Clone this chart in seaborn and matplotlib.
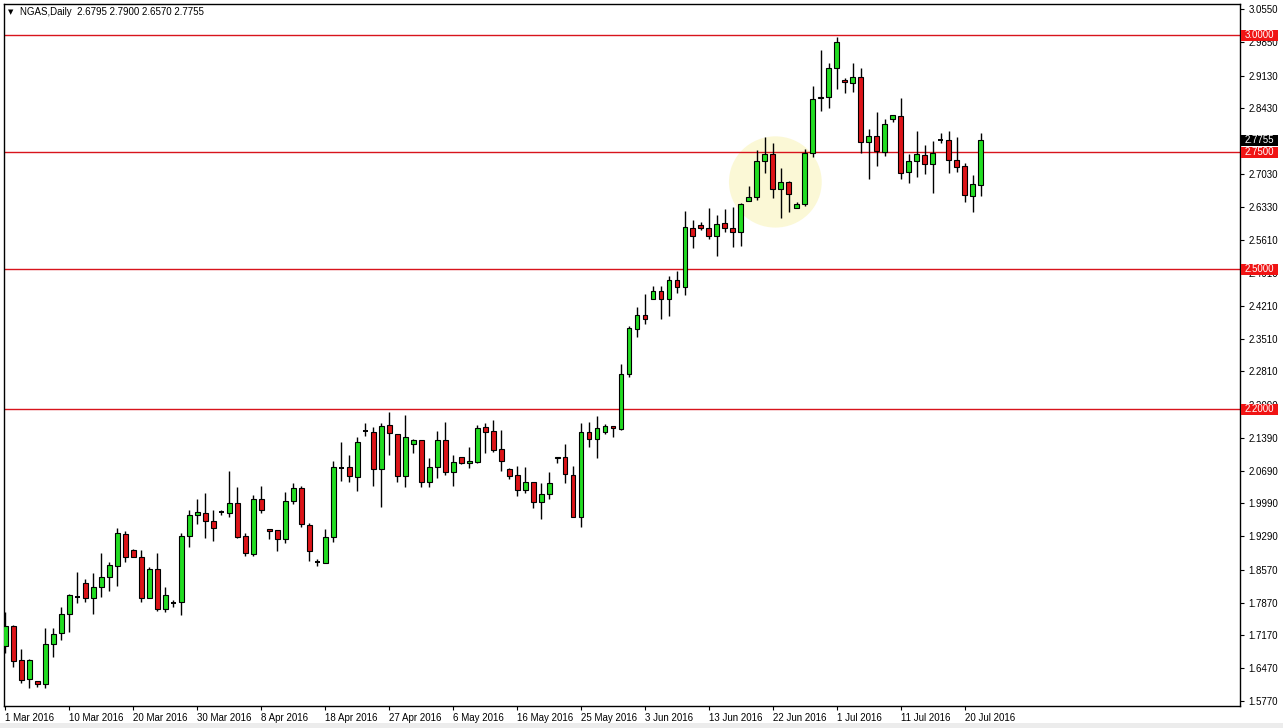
import matplotlib
matplotlib.use("Agg")
import matplotlib.pyplot as plt
import seaborn as sns
import numpy as np
import pandas as pd
from matplotlib.patches import Ellipse, Rectangle

# ---------------- data (NGAS daily, 1 Mar 2016 - 22 Jul 2016) ----------------
opens = [1.694, 1.737, 1.665, 1.624, 1.620, 1.613, 1.699, 1.722, 1.763, 1.800,
         1.829, 1.797, 1.821, 1.842, 1.865, 1.934, 1.900, 1.885, 1.797, 1.859,
         1.774, 1.786, 1.789, 1.930, 1.974, 1.979, 1.962, 1.980, 1.979, 2.000,
         1.930, 1.891, 2.009, 1.944, 1.942, 1.923, 2.004, 2.032, 1.953, 1.874,
         1.872, 1.927, 2.075, 2.077, 2.056, 2.154, 2.152, 2.073, 2.167, 2.147,
         2.058, 2.126, 2.135, 2.045, 2.077, 2.135, 2.066, 2.098, 2.086, 2.088,
         2.162, 2.154, 2.115, 2.073, 2.060, 2.028, 2.045, 2.002, 2.019, 2.096,
         2.098, 2.060, 1.970, 2.152, 2.137, 2.152, 2.165, 2.158, 2.276, 2.372,
         2.402, 2.436, 2.453, 2.436, 2.477, 2.462, 2.588, 2.594, 2.588, 2.571,
         2.598, 2.588, 2.579, 2.645, 2.654, 2.731, 2.746, 2.671, 2.686, 2.630,
         2.639, 2.748, 2.868, 2.868, 2.930, 2.904, 2.898, 2.910, 2.771, 2.784,
         2.750, 2.821, 2.827, 2.707, 2.731, 2.744, 2.724, 2.776, 2.776, 2.733,
         2.720, 2.656, 2.6795]
highs = [1.767, 1.739, 1.688, 1.666, 1.620, 1.733, 1.733, 1.778, 1.806, 1.853,
         1.838, 1.850, 1.893, 1.874, 1.947, 1.940, 1.902, 1.900, 1.863, 1.893,
         1.821, 1.793, 1.936, 1.985, 2.009, 2.021, 1.985, 1.985, 2.068, 2.034,
         1.936, 2.017, 2.036, 1.944, 1.942, 2.023, 2.043, 2.036, 1.957, 1.880,
         1.944, 2.090, 2.130, 2.103, 2.141, 2.171, 2.162, 2.171, 2.194, 2.147,
         2.188, 2.137, 2.135, 2.096, 2.154, 2.173, 2.103, 2.098, 2.120, 2.167,
         2.171, 2.177, 2.156, 2.075, 2.079, 2.077, 2.045, 2.043, 2.066, 2.098,
         2.126, 2.079, 2.171, 2.173, 2.186, 2.169, 2.165, 2.297, 2.378, 2.419,
         2.447, 2.464, 2.464, 2.485, 2.496, 2.624, 2.605, 2.600, 2.630, 2.615,
         2.628, 2.633, 2.641, 2.677, 2.754, 2.782, 2.769, 2.716, 2.688, 2.643,
         2.756, 2.891, 2.968, 2.940, 2.996, 2.908, 2.940, 2.930, 2.799, 2.836,
         2.821, 2.829, 2.865, 2.746, 2.795, 2.765, 2.774, 2.791, 2.795, 2.782,
         2.727, 2.701, 2.7900]
lows = [1.680, 1.650, 1.615, 1.605, 1.607, 1.605, 1.671, 1.707, 1.724, 1.786,
        1.789, 1.763, 1.799, 1.812, 1.823, 1.874, 1.885, 1.789, 1.797, 1.769,
        1.767, 1.778, 1.761, 1.906, 1.955, 1.925, 1.919, 1.974, 1.970, 1.925,
        1.887, 1.887, 1.979, 1.923, 1.897, 1.915, 1.998, 1.949, 1.876, 1.865,
        1.872, 1.917, 2.047, 2.045, 2.026, 2.143, 2.036, 1.992, 2.103, 2.045,
        2.034, 2.107, 2.034, 2.034, 2.053, 2.060, 2.036, 2.083, 2.075, 2.086,
        2.107, 2.109, 2.068, 2.051, 2.015, 2.021, 1.989, 1.966, 2.009, 2.086,
        2.043, 1.970, 1.949, 2.120, 2.096, 2.147, 2.141, 2.156, 2.269, 2.355,
        2.383, 2.436, 2.393, 2.400, 2.449, 2.444, 2.545, 2.583, 2.564, 2.528,
        2.579, 2.547, 2.549, 2.645, 2.647, 2.705, 2.652, 2.609, 2.622, 2.630,
        2.635, 2.739, 2.838, 2.844, 2.885, 2.876, 2.878, 2.748, 2.692, 2.720,
        2.742, 2.814, 2.692, 2.684, 2.697, 2.703, 2.662, 2.769, 2.705, 2.707,
        2.643, 2.622, 2.6570]
closes = [1.737, 1.662, 1.622, 1.665, 1.613, 1.699, 1.720, 1.763, 1.803, 1.800,
          1.797, 1.821, 1.842, 1.868, 1.936, 1.885, 1.885, 1.797, 1.859, 1.774,
          1.803, 1.786, 1.930, 1.974, 1.981, 1.962, 1.947, 1.980, 2.000, 1.927,
          1.893, 2.009, 1.985, 1.940, 1.923, 2.004, 2.032, 1.955, 1.897, 1.874,
          1.927, 2.077, 2.075, 2.058, 2.130, 2.154, 2.073, 2.165, 2.150, 2.058,
          2.141, 2.135, 2.045, 2.077, 2.135, 2.066, 2.088, 2.086, 2.090, 2.160,
          2.152, 2.113, 2.090, 2.058, 2.028, 2.045, 2.002, 2.019, 2.043, 2.098,
          2.062, 1.970, 2.152, 2.137, 2.160, 2.165, 2.160, 2.276, 2.374, 2.402,
          2.393, 2.453, 2.436, 2.477, 2.462, 2.590, 2.571, 2.588, 2.571, 2.596,
          2.588, 2.579, 2.639, 2.654, 2.731, 2.746, 2.671, 2.686, 2.660, 2.639,
          2.748, 2.863, 2.865, 2.930, 2.985, 2.900, 2.910, 2.771, 2.784, 2.752,
          2.810, 2.829, 2.705, 2.731, 2.746, 2.724, 2.748, 2.776, 2.733, 2.718,
          2.658, 2.682, 2.7755]

date_labels = ["1 Mar 2016", "10 Mar 2016", "20 Mar 2016", "30 Mar 2016",
               "8 Apr 2016", "18 Apr 2016", "27 Apr 2016", "6 May 2016",
               "16 May 2016", "25 May 2016", "3 Jun 2016", "13 Jun 2016",
               "22 Jun 2016", "1 Jul 2016", "11 Jul 2016", "20 Jul 2016"]
label_every = 8

level_prices = [3.0, 2.75, 2.5, 2.2]
price_ticks = [3.055, 2.985, 2.913, 2.843, 2.773, 2.703, 2.633, 2.561, 2.491,
               2.421, 2.351, 2.281, 2.209, 2.139, 2.069, 1.999, 1.929, 1.857,
               1.787, 1.717, 1.647, 1.577]
symbol = "NGAS,Daily"

# ---------------- styling ----------------
sns.set_theme(style="white")
plt.rcParams["font.family"] = ["Liberation Sans", "DejaVu Sans"]

GREEN = "#22dd22"
RED = "#dd1418"
LINE_RED = "#d8141c"

df = pd.DataFrame({"open": opens, "high": highs, "low": lows, "close": closes})
df["idx"] = np.arange(len(df))
bull = df["close"] > df["open"]
bear = df["close"] < df["open"]
doji = ~(bull | bear)

W, H = 1283, 728
fig = plt.figure(figsize=(W / 100, H / 100), dpi=100)
fig.patch.set_facecolor("white")
fig.patches.append(Rectangle((0, 0), 1, 5 / H, transform=fig.transFigure,
                             facecolor="#ececec", edgecolor="none", zorder=0))

AX_W_PX, AX_H_PX = 1236, 702
ax = fig.add_axes([4 / W, 22 / H, AX_W_PX / W, AX_H_PX / H])
ax.set_facecolor("white")

ax.set_xlim(-0.15, 154.4)
ylo, yhi = 1.5662, 3.0663
ax.set_ylim(ylo, yhi)
px_per_price = AX_H_PX / (yhi - ylo)

# highlight ellipse (annotation)
ax.add_patch(Ellipse((96.3, 2.686), 11.6, 0.195, facecolor="#fbf7cf",
                     edgecolor="none", alpha=0.85, zorder=0.5))

# level lines
for p in level_prices:
    ax.axhline(p, color=LINE_RED, lw=1.0, zorder=1)

# candles
ax.vlines(df["idx"], df["low"], df["high"], color="black", lw=1.0, zorder=2)
bw = 0.62
ax.bar(df["idx"][bull], (df["close"] - df["open"])[bull], bottom=df["open"][bull],
       width=bw, color=GREEN, edgecolor="black", linewidth=0.8, zorder=3)
ax.bar(df["idx"][bear], (df["open"] - df["close"])[bear], bottom=df["close"][bear],
       width=bw, color=RED, edgecolor="black", linewidth=0.8, zorder=3)
ax.hlines(df["close"][doji], df["idx"][doji] - bw / 2, df["idx"][doji] + bw / 2,
          color="black", lw=1.4, zorder=3)

# axes / ticks
for s in ["left", "top", "bottom", "right"]:
    ax.spines[s].set_visible(True)
    ax.spines[s].set_color("black")
    ax.spines[s].set_linewidth(1.0)
ax.yaxis.tick_right()
ax.set_yticks(price_ticks)
ax.set_yticklabels([f"{v:.4f}" for v in price_ticks])
ax.tick_params(axis="y", which="both", right=True, left=False, length=3,
               width=0.8, labelsize=7, pad=3, colors="black")
xt = list(range(0, label_every * len(date_labels), label_every))
ax.set_xticks(xt)
ax.set_xticklabels(date_labels, ha="left")
ax.tick_params(axis="x", bottom=True, length=3, width=0.8, labelsize=7, pad=2,
               colors="black")
ax.set_xlabel("")
ax.set_ylabel("")
ax.grid(False)

# right-side price labels (boxes of fixed pixel size)
ytr = ax.get_yaxis_transform()
box_w = 37 / AX_W_PX
box_h = 11 / px_per_price
box_x0 = 1.0008


def price_tag(p, fc, z):
    ax.add_patch(Rectangle((box_x0, p - box_h / 2), box_w, box_h, transform=ytr,
                           facecolor=fc, edgecolor="none", zorder=z, clip_on=False))
    ax.text(box_x0 + box_w / 2, p, f"{p:.4f}", transform=ytr, ha="center",
            va="center", fontsize=7, color="white", zorder=z + 0.5, clip_on=False)


for p in level_prices:
    price_tag(p, "#f01414", 10)
price_tag(closes[-1], "black", 12)

# header
fig.text(8 / W, 1 - 12 / H, "\u25bc", fontsize=5, color="black", va="center",
         family="DejaVu Sans")
fig.text(20 / W, 1 - 12 / H,
         f"{symbol}  {opens[-1]:.4f} {highs[-1]:.4f} {lows[-1]:.4f} {closes[-1]:.4f}",
         fontsize=7, color="black", va="center")

fig.savefig("out.png", dpi=100)
